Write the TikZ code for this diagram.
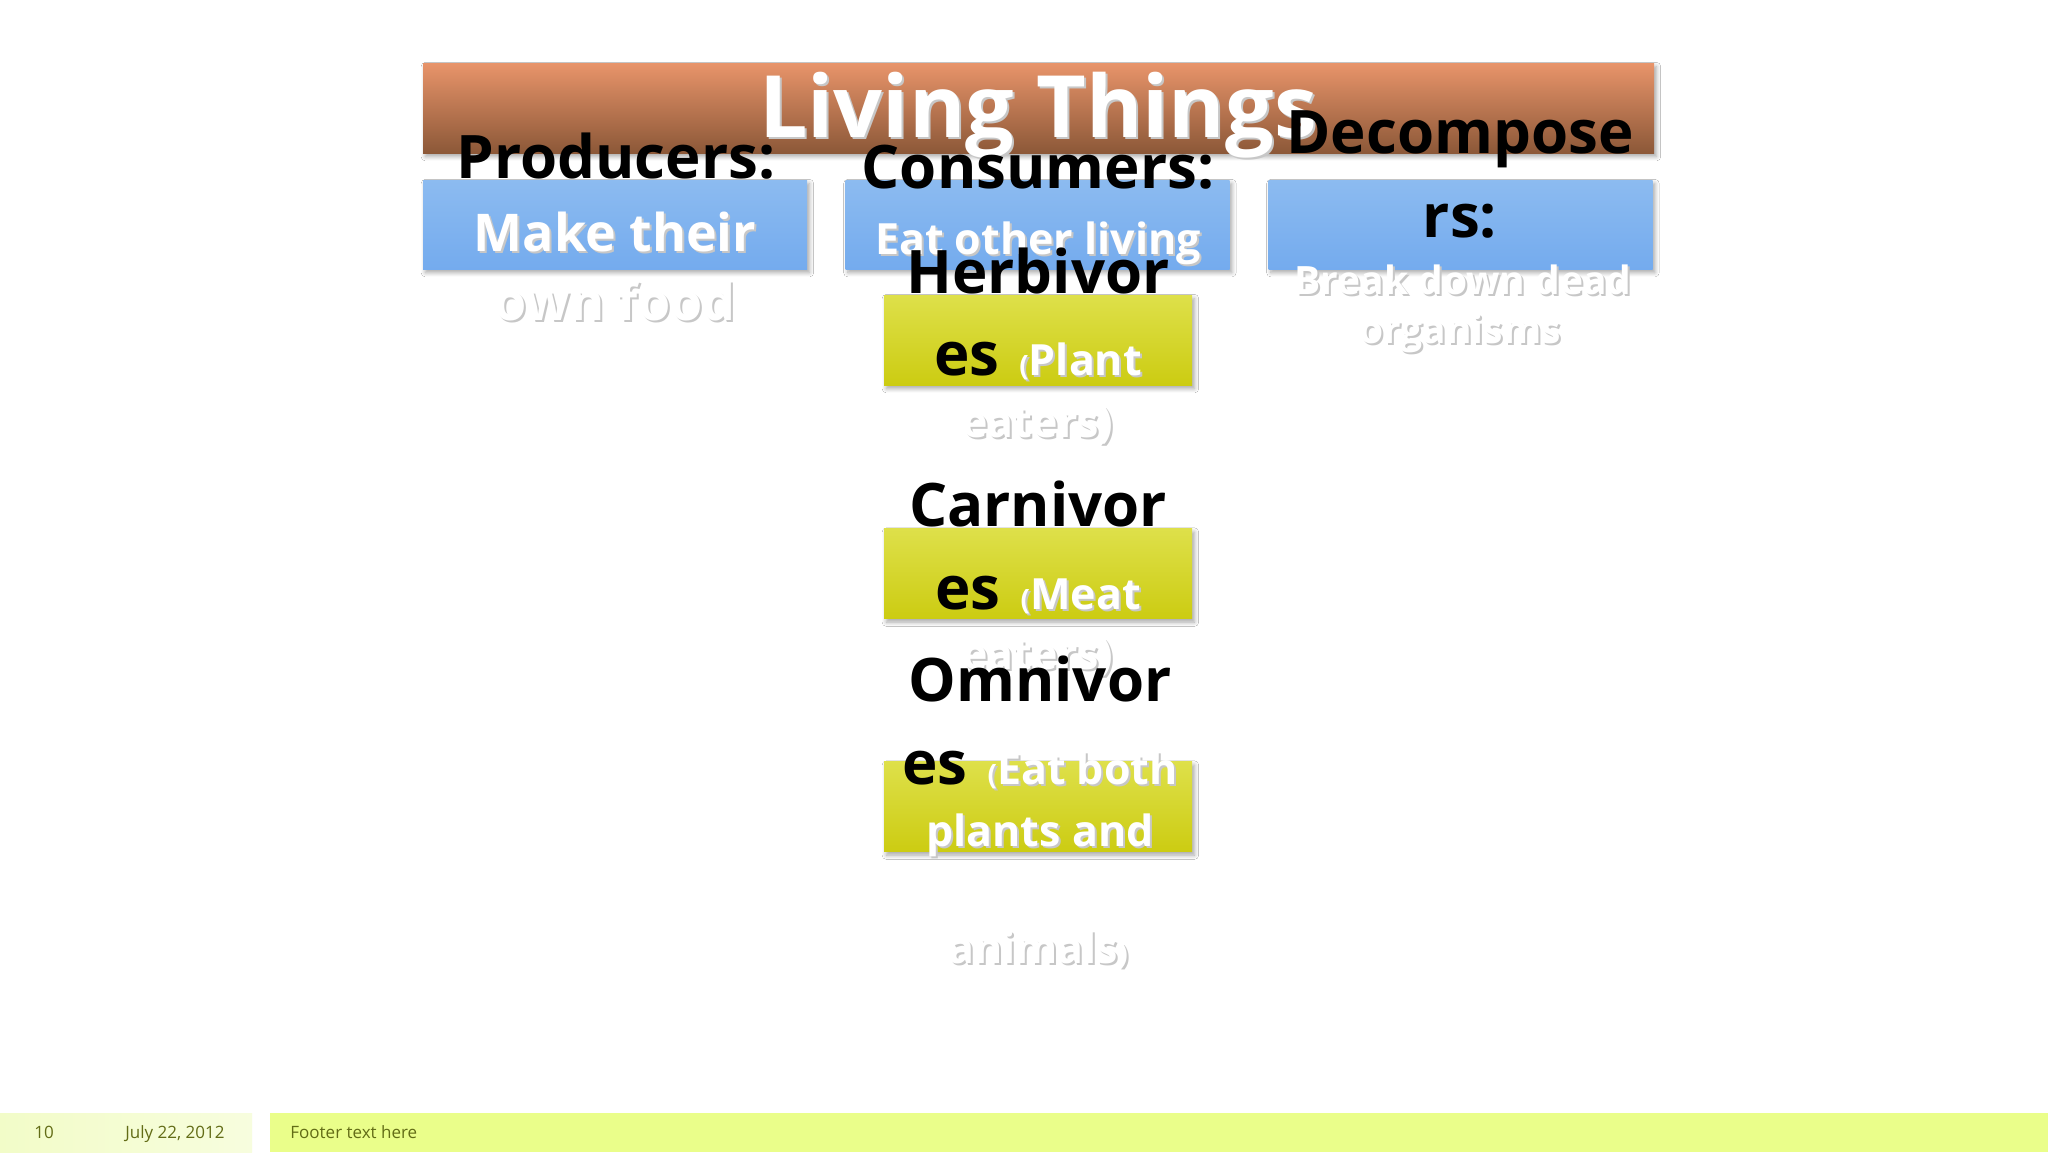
\documentclass[tikz,border=0pt]{standalone}
\usepackage{fontspec}
\setmainfont{Open Sans}
\usetikzlibrary{shadows.blur}

\definecolor{titleTop}{RGB}{232,148,106}
\definecolor{titleBot}{RGB}{140,88,56}
\definecolor{blueTop}{RGB}{140,187,240}
\definecolor{blueBot}{RGB}{116,171,238}
\definecolor{yelTop}{RGB}{222,224,74}
\definecolor{yelBot}{RGB}{204,204,18}
\definecolor{footLeft}{RGB}{242,252,200}
\definecolor{footRight}{RGB}{234,254,138}
\definecolor{footText}{RGB}{98,108,22}

% white text with a soft grey shadow
\newcommand{\wtxt}[1]{\makebox[0pt][l]{\hspace{1pt}\raisebox{-1.4pt}{\textcolor{black!22}{#1}}}\textcolor{white}{#1}}
\newcommand{\paren}[1]{{\fontsize{14}{14}\selectfont\wtxt{#1}}}

\begin{document}
\begin{tikzpicture}[x=0.5pt,y=-0.5pt,
    box/.style={inner sep=0pt,blur shadow={shadow xshift=1.2pt,shadow yshift=-1.8pt,shadow blur steps=6,shadow opacity=35}},
    bluebox/.style={box,minimum width=192pt,minimum height=44.5pt,top color=blueTop,bottom color=blueBot},
    yelbox/.style={box,minimum width=154pt,minimum height=45pt,top color=yelTop,bottom color=yelBot},
    head/.style={anchor=base,inner sep=0pt,font=\fontsize{30}{30}\selectfont\bfseries},
    body/.style={anchor=base,inner sep=0pt,font=\fontsize{21.5}{21.5}\selectfont\bfseries},
    foot/.style={anchor=base west,inner sep=0pt,text=footText,font=\fontsize{8.5}{8.5}\selectfont}]
\useasboundingbox[fill=white] (0,0) rectangle (2048,1152);

% title bar
\node[box,minimum width=615.5pt,minimum height=45pt,top color=titleTop,bottom color=titleBot] (titleBar) at (1038.5,108) {};
\node[anchor=base,inner sep=0pt,font=\fontsize{43}{43}\selectfont\bfseries] (title) at (1038,137) {\wtxt{Living Things}};

% three blue boxes
\node[bluebox] (prodBox) at (615,224.5) {};
\node[bluebox] (consBox) at (1037.5,224.5) {};
\node[bluebox] (decBox) at (1460.5,224.5) {};

% producers
\node[head] (prodHead) at (616,178) {Producers:};
\node[body,font=\fontsize{26}{26}\selectfont\bfseries] (prodTxtA) at (615,251) {\wtxt{Make their}};
\node[body,font=\fontsize{26}{26}\selectfont\bfseries] (prodTxtB) at (615,320) {\wtxt{own food}};

% consumers
\node[head] (consHead) at (1038,188) {Consumers:};
\node[body] (consTxt) at (1038,254) {\wtxt{Eat other living}};

% decomposers
\node[head] (decHeadA) at (1460,153) {Decompose};
\node[head] (decHeadB) at (1460,237) {rs:};
\node[body,font=\fontsize{19.5}{19.5}\selectfont\bfseries] (decTxtA) at (1463,294) {\wtxt{Break down dead}};
\node[body,font=\fontsize{19.5}{19.5}\selectfont\bfseries] (decTxtB) at (1460,343) {\wtxt{organisms}};

% yellow boxes
\node[yelbox] (herbBox) at (1038,340) {};
\node[yelbox] (carnBox) at (1038,573.5) {};
\node[yelbox] (omniBox) at (1038,806.5) {};

% herbivores
\node[head] (herbHeadA) at (1038,293) {Herbivor};
\node[head] (herbHeadB) at (1038,375) {es\hspace{10pt}\paren{(}{\fontsize{21.5}{21.5}\selectfont\wtxt{Plant}}};
\node[body] (herbTxt) at (1038,437) {\wtxt{eaters)}};

% carnivores
\node[head] (carnHeadA) at (1038,526) {Carnivor};
\node[body] (carnTxt) at (1038,669) {\wtxt{eaters)}};
\node[head] (carnHeadB) at (1038,609) {es\hspace{10pt}\paren{(}{\fontsize{21.5}{21.5}\selectfont\wtxt{Meat}}};

% omnivores
\node[head] (omniHeadA) at (1040,701) {Omnivor};
\node[head] (omniHeadB) at (1040,784) {es\hspace{10pt}\paren{(}{\fontsize{21.5}{21.5}\selectfont\wtxt{Eat both}}};
\node[body] (omniTxtA) at (1040,846) {\wtxt{plants and}};
\node[body] (omniTxtB) at (1038,963) {\wtxt{animals}\paren{)}};

% footer
\fill[left color=footLeft,right color=footLeft!60!white] (0,1113) rectangle (252,1152);
\fill[footRight] (270,1113) rectangle (2048,1152);
\node[foot] (pageNum) at (34,1138) {10};
\node[foot] (dateTxt) at (125,1138) {July 22, 2012};
\node[foot] (footTxt) at (290,1138) {Footer text here};
\end{tikzpicture}
\end{document}
